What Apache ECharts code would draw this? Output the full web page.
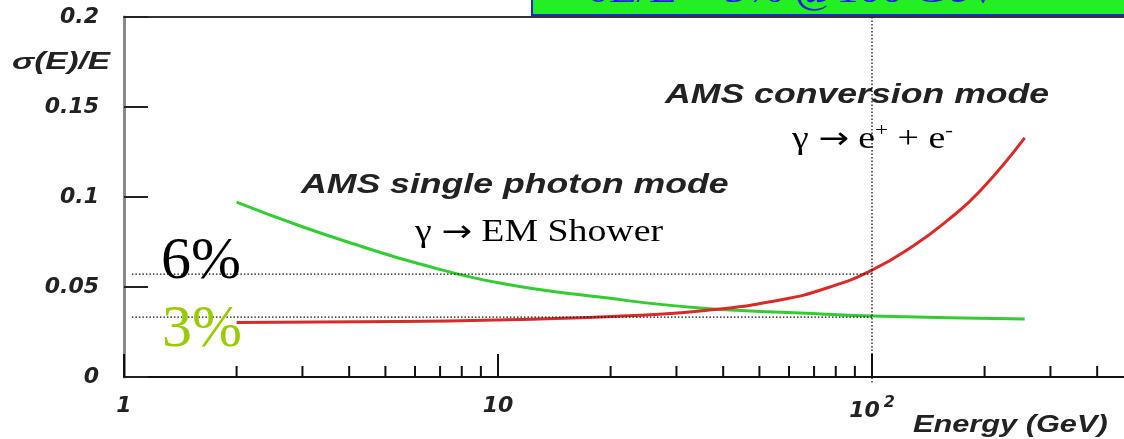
<!DOCTYPE html>
<html lang="en">
<head>
<meta charset="UTF-8">
<title>AMS photon energy resolution</title>
<script src="https://cdn.jsdelivr.net/npm/echarts@6.0.0/dist/echarts.min.js"></script>
</head>
<body style="margin:0;background:#fff">
<div id="main" style="width:1124px;height:439px;"></div>
<script>
// energies in GeV and sigma(E)/E
const singleEnergy = [2, 2.96, 4.28, 6.18, 10.1, 18.7, 34.7, 64.2, 100, 256];
const singleRes = [0.0972, 0.0839, 0.0728, 0.0628, 0.0522, 0.0444, 0.0383, 0.0356, 0.0339, 0.0322];
const convEnergy = [2, 5.47, 10.1, 18.7, 34.7, 56.8, 77.2, 100, 128.8, 158.6, 194.5, 256];
const convRes = [0.0303, 0.0308, 0.0317, 0.0333, 0.0367, 0.0428, 0.05, 0.0594, 0.0728, 0.0867, 0.1033, 0.1328];

// minor ticks of the log axis
const minorTicks = [2, 3, 4, 5, 6, 7, 8, 9, 20, 30, 40, 50, 60, 70, 80, 90, 200, 300, 400, 500, 600, 700, 800, 900];
const yTickLabels = ['0', '0.05', '0.1', '0.15', '0.2'];
const xTickLabels = { 1: '1', 10: '10', 100: '{b|10}{s|2}' };

// dotted guides: 6% and 3% levels, marked at 100 GeV
const guideLevels = [0.0572, 0.0333];
const guideEnergy = 100;

const tickFont = {
    fontFamily: 'DejaVu Sans',
    fontWeight: 'bold',
    fontStyle: 'italic',
    color: '#222'
};

let myChart = echarts.init(document.getElementById('main'));

function pairs(xs, ys) {
    return xs.map((x, i) => [x, ys[i]]);
}

let dotted = { color: '#111', width: 1.3, type: [1.5, 2] };

let guideSeries = guideLevels.map(lvl => ({
    type: 'line',
    data: [[1.05, lvl], [guideEnergy, lvl]],
    symbol: 'none',
    silent: true,
    z: 5,
    lineStyle: dotted
}));

let options = {
    animation: false,
    grid: {
        left: 124,
        right: -122,
        top: 17,
        bottom: 62,
        containLabel: false,
        outerBoundsMode: 'none'
    },
    xAxis: [{
        type: 'log',
        logBase: 10,
        min: 1,
        max: 1000,
        axisLine: { lineStyle: { color: '#111', width: 2 } },
        axisTick: { inside: true, length: 23, lineStyle: { color: '#111', width: 2 } },
        splitLine: { show: false },
        axisLabel: Object.assign({}, tickFont, {
            fontSize: 22,
            margin: 18,
            formatter: v => xTickLabels[Math.round(v)] || '',
            rich: {
                b: Object.assign({}, tickFont, { fontSize: 22 }),
                s: Object.assign({}, tickFont, { fontSize: 16, padding: [0, 0, 16, 4] })
            }
        })
    }, {
        type: 'log',
        position: 'top',
        min: 1,
        max: 1000,
        axisLine: { lineStyle: { color: '#333', width: 2 } },
        axisTick: { show: false },
        axisLabel: { show: false },
        splitLine: { show: false }
    }],
    yAxis: {
        type: 'value',
        min: 0,
        max: 0.2,
        interval: 0.05,
        axisLine: { show: true, lineStyle: { color: '#8a8a8a', width: 3 } },
        axisTick: { show: true, inside: true, length: 24, lineStyle: { color: '#222', width: 2 } },
        splitLine: { show: false },
        axisLabel: Object.assign({}, tickFont, {
            fontSize: 22,
            margin: 25,
            formatter: (v, i) => yTickLabels[i]
        })
    },
    series: [{
        name: 'AMS single photon mode',
        type: 'line',
        data: pairs(singleEnergy, singleRes),
        smooth: 0.5,
        symbol: 'none',
        lineStyle: { color: '#33cc33', width: 3 }
    }, {
        name: 'AMS conversion mode',
        type: 'line',
        data: pairs(convEnergy, convRes),
        smooth: 0.5,
        symbol: 'none',
        lineStyle: { color: '#d92a2a', width: 3 }
    }].concat(guideSeries, [{
        type: 'line',
        data: [[guideEnergy, -0.003], [guideEnergy, 0.2]],
        symbol: 'none',
        silent: true,
        clip: false,
        z: 5,
        lineStyle: dotted
    }, {
        type: 'custom',
        silent: true,
        clip: false,
        data: minorTicks.map(e => [e, 0]),
        renderItem: (params, api) => {
            let p = api.coord([api.value(0), 0]);
            return {
                type: 'line',
                shape: { x1: p[0], y1: p[1], x2: p[0], y2: p[1] - 11 },
                style: { stroke: '#111', lineWidth: 2 }
            };
        }
    }]),
    graphic: [
        // resolution box at the top, mostly cut off
        {
            type: 'rect',
            shape: { x: 532, y: -10, width: 620, height: 25 },
            style: { fill: '#22f022', stroke: '#2222d8', lineWidth: 2 },
            z: 10
        },
        {
            type: 'text', x: 588, y: 11, scaleX: 1.12, z: 11,
            style: {
                text: 'δE/E = 3% @100 GeV',
                font: '40px "Liberation Serif"',
                fill: '#1a1ae0',
                align: 'left',
                verticalAlign: 'bottom'
            }
        },
        {
            type: 'text', x: 12, y: 63, scaleX: 1.45,
            style: { text: 'σ(E)/E', font: 'italic bold 23px "Liberation Sans"', fill: '#222', verticalAlign: 'middle' }
        },
        {
            type: 'text', x: 913, y: 425, scaleX: 1.28,
            style: { text: 'Energy (GeV)', font: 'italic bold 24px "Liberation Sans"', fill: '#222', verticalAlign: 'middle' }
        },
        {
            type: 'text', x: 301, y: 186, scaleX: 1.32,
            style: { text: 'AMS single photon mode', font: 'italic bold 27px "Liberation Sans"', fill: '#222', verticalAlign: 'middle' }
        },
        {
            type: 'text', x: 665, y: 96, scaleX: 1.32,
            style: { text: 'AMS conversion mode', font: 'italic bold 27px "Liberation Sans"', fill: '#222', verticalAlign: 'middle' }
        },
        {
            type: 'text', x: 415, y: 233, scaleX: 1.22,
            style: {
                text: '{n|γ }{a|→}{n| EM Shower}',
                verticalAlign: 'middle',
                rich: {
                    n: { font: '31px "Liberation Serif"', fill: '#000' },
                    a: { font: '30px "DejaVu Sans"', fill: '#000' }
                }
            }
        },
        {
            type: 'text', x: 792, y: 140, scaleX: 1.22,
            style: {
                text: '{n|γ }{a|→}{n| e}{s|+}{n| + e}{s|-}',
                verticalAlign: 'middle',
                rich: {
                    n: { font: '31px "Liberation Serif"', fill: '#000' },
                    a: { font: '30px "DejaVu Sans"', fill: '#000' },
                    s: { font: '19px "Liberation Serif"', fill: '#000', padding: [0, 0, 18, 0] }
                }
            }
        },
        {
            type: 'text', x: 161, y: 262, z: 6,
            style: { text: '6%', font: '60px "Liberation Serif"', fill: '#000', verticalAlign: 'middle' }
        },
        {
            type: 'text', x: 162, y: 330, z: 6,
            style: { text: '3%', font: '60px "Liberation Serif"', fill: '#99cc00', verticalAlign: 'middle' }
        }
    ]
};

myChart.setOption(options);

window.addEventListener('resize', () => {
    myChart.resize();
});
</script>
</body>
</html>
